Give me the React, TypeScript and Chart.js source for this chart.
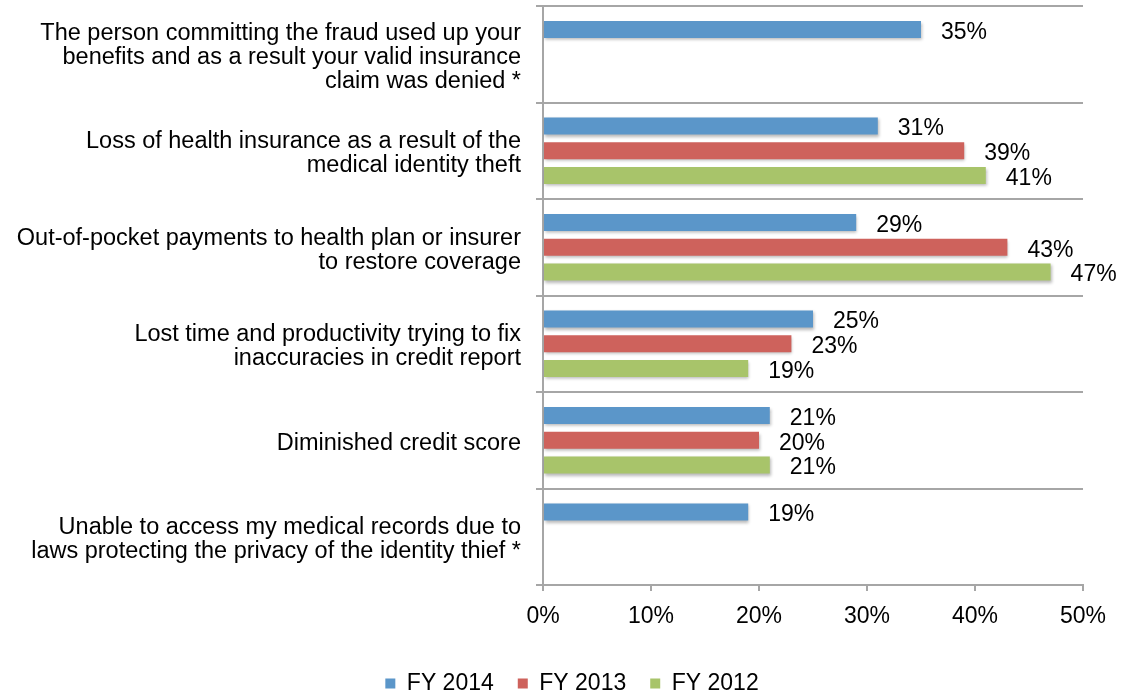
import React, { useEffect, useRef } from 'react';
import { Chart, registerables } from 'chart.js';

Chart.register(...registerables);

const categories: (string | string[])[] = [
  ['The person committing the fraud used up your', 'benefits and as a result your valid insurance', 'claim was denied *'],
  ['Loss of health insurance as a result of the', 'medical identity theft'],
  ['Out-of-pocket payments to health plan or insurer', 'to restore coverage'],
  ['Lost time and productivity trying to fix', 'inaccuracies in credit report'],
  'Diminished credit score',
  ['Unable to access my medical records due to', 'laws protecting the privacy of the identity thief *'],
];

const seriesNames = ['FY 2014', 'FY 2013', 'FY 2012'];
const fy2014 = [35, 31, 29, 25, 21, 19];
const fy2013 = [null, 39, 43, 23, 20, null];
const fy2012 = [null, 41, 47, 19, 21, null];
const seriesColors = ['#5B96C9', '#CE625C', '#A8C46A'];
const xMin = 0;
const xMax = 50;
const xStep = 10;

const FONT = "Arial, 'Liberation Sans', sans-serif";
const GRID = '#A6A6A6';

const shadowPlugin = {
  id: 'barShadow',
  beforeDatasetsDraw(chart: any) {
    const ctx = chart.ctx;
    ctx.save();
    ctx.shadowColor = 'rgba(0,0,0,0.28)';
    ctx.shadowBlur = 3;
    ctx.shadowOffsetX = 1;
    ctx.shadowOffsetY = 2;
  },
  afterDatasetsDraw(chart: any) {
    chart.ctx.restore();
  },
};

const valueLabelPlugin = {
  id: 'valueLabels',
  afterDatasetsDraw(chart: any) {
    const ctx = chart.ctx;
    ctx.save();
    ctx.font = `23px ${FONT}`;
    ctx.fillStyle = '#000';
    ctx.textAlign = 'left';
    ctx.textBaseline = 'middle';
    chart.data.datasets.forEach((ds: any, di: number) => {
      const meta = chart.getDatasetMeta(di);
      meta.data.forEach((el: any, i: number) => {
        const v = ds.data[i];
        if (v === null || v === undefined) return;
        ctx.fillText(`${v}%`, el.x + 20, el.y + 3);
      });
    });
    ctx.restore();
  },
};

const legendPlacePlugin = {
  id: 'legendPlace',
  afterLayout(chart: any) {
    const lg = chart.legend;
    if (!lg) return;
    const h = lg.bottom - lg.top;
    const top = 648;
    lg.top = top;
    lg.bottom = top + h;
    const mid = (lg.left + lg.right) / 2;
    const dx = 572 - mid;
    lg.left += dx;
    lg.right += dx;
  },
};

const yLabelNudgePlugin = {
  id: 'yLabelNudge',
  beforeDraw(chart: any) {
    const s = chart.scales.y;
    if (!s || typeof s.getLabelItems !== 'function') return;
    const items = s.getLabelItems();
    items.forEach((it: any) => {
      if (!it.__nudged && it.options && it.options.translation) {
        it.options.translation = [it.options.translation[0], it.options.translation[1] + 3];
        it.__nudged = true;
      }
    });
  },
};

export default function App() {
  const ref = useRef<HTMLCanvasElement | null>(null);

  useEffect(() => {
    if (!ref.current) return;
    const datasets = [fy2014, fy2013, fy2012].map((d, i) => ({
      label: seriesNames[i],
      data: d,
      backgroundColor: seriesColors[i],
      borderWidth: 0,
      categoryPercentage: 0.77,
      barPercentage: 0.69,
    }));
    const chart = new Chart(ref.current, {
      type: 'bar',
      data: { labels: categories as any, datasets: datasets as any },
      options: {
        indexAxis: 'y',
        responsive: false,
        animation: false,
        devicePixelRatio: 1,
        layout: { padding: { top: 6, right: 42, left: 0, bottom: 0 } },
        plugins: {
          tooltip: { enabled: false },
          legend: {
            position: 'bottom',
            labels: {
              boxWidth: 10,
              boxHeight: 10,
              padding: 24,
              color: '#000',
              font: { family: FONT, size: 23 },
            },
          },
        },
        scales: {
          x: {
            min: xMin,
            max: xMax,
            ticks: {
              stepSize: xStep,
              color: '#000',
              padding: 14,
              font: { family: FONT, size: 23, lineHeight: '24px' },
              callback: (v: any) => `${v}%`,
            },
            grid: {
              drawOnChartArea: false,
              drawTicks: true,
              tickLength: 6,
              color: GRID,
              lineWidth: 2,
            },
            border: { display: true, color: GRID, width: 2 },
            afterFit(scale: any) {
              scale.height = 53;
            },
          },
          y: {
            ticks: {
              color: '#000',
              padding: 15,
              font: { family: FONT, size: 23.5, lineHeight: '24px' },
            },
            grid: {
              offset: true,
              drawOnChartArea: true,
              drawTicks: true,
              tickLength: 7,
              color: GRID,
              lineWidth: 2,
            },
            border: { display: true, color: GRID, width: 2 },
            afterFit(scale: any) {
              scale.width = 543;
              scale.paddingTop = 0;
              scale.paddingBottom = 0;
            },
          },
        },
      },
      plugins: [shadowPlugin, valueLabelPlugin, legendPlacePlugin, yLabelNudgePlugin],
    });
    return () => chart.destroy();
  }, []);

  return (
    <div style={{ position: 'fixed', left: 0, top: 0, width: 1125, height: 695, background: '#fff' }}>
      <canvas ref={ref} width={1125} height={695} style={{ display: 'block' }} />
    </div>
  );
}
